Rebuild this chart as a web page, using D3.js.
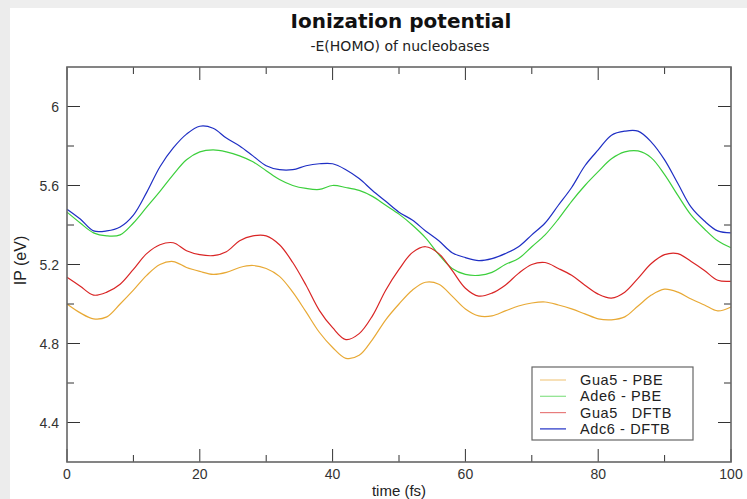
<!DOCTYPE html>
<html>
<head>
<meta charset="utf-8">
<script src="https://cdn.jsdelivr.net/npm/d3@7/dist/d3.min.js"></script>
<style>
  body { margin: 0; background: #fff; }
  svg { display: block; font-family: "Liberation Sans", Arial, sans-serif; }
</style>
</head>
<body>
<div id="chart"></div>
<script>
// time axis (fs) shared by all four series
const timeFs = [0, 2, 4, 6, 8, 10, 12, 14, 16, 18, 20, 22, 24, 26, 28, 30, 32, 34, 36, 38, 40,
  42, 44, 46, 48, 50, 52, 54, 56, 58, 60, 62, 64, 66, 68, 70, 72, 74, 76, 78, 80,
  82, 84, 86, 88, 90, 92, 94, 96, 98, 100];

// IP values (eV)
const gua5Pbe = [5.00, 4.955, 4.925, 4.935, 5.00, 5.07, 5.145, 5.20, 5.215, 5.185, 5.165,
  5.15, 5.16, 5.185, 5.195, 5.18, 5.14, 5.06, 4.96, 4.857, 4.78,
  4.725, 4.74, 4.82, 4.92, 5.00, 5.07, 5.11, 5.10, 5.04, 4.975,
  4.94, 4.94, 4.965, 4.99, 5.005, 5.01, 4.995, 4.975, 4.95, 4.925,
  4.92, 4.935, 4.99, 5.045, 5.075, 5.06, 5.025, 4.995, 4.965, 4.985];
const ade6Pbe = [5.465, 5.41, 5.36, 5.345, 5.35, 5.41, 5.49, 5.57, 5.655, 5.73, 5.77,
  5.78, 5.77, 5.75, 5.72, 5.675, 5.63, 5.60, 5.585, 5.58, 5.60,
  5.59, 5.575, 5.545, 5.50, 5.455, 5.40, 5.335, 5.25, 5.18, 5.15,
  5.145, 5.16, 5.20, 5.23, 5.29, 5.35, 5.43, 5.52, 5.60, 5.67,
  5.735, 5.77, 5.775, 5.74, 5.655, 5.55, 5.45, 5.38, 5.32, 5.285];
const gua5Dftb = [5.136, 5.09, 5.045, 5.06, 5.10, 5.175, 5.255, 5.30, 5.31, 5.27, 5.25,
  5.245, 5.265, 5.32, 5.345, 5.345, 5.30, 5.21, 5.095, 4.968, 4.88,
  4.82, 4.85, 4.94, 5.07, 5.175, 5.26, 5.29, 5.255, 5.17, 5.08,
  5.04, 5.055, 5.095, 5.155, 5.20, 5.21, 5.18, 5.145, 5.095, 5.05,
  5.03, 5.06, 5.13, 5.205, 5.25, 5.255, 5.215, 5.17, 5.12, 5.115];
const ade6Dftb = [5.48, 5.43, 5.37, 5.37, 5.39, 5.45, 5.565, 5.695, 5.79, 5.86, 5.90,
  5.89, 5.84, 5.80, 5.75, 5.70, 5.68, 5.68, 5.70, 5.71, 5.71,
  5.68, 5.635, 5.575, 5.52, 5.465, 5.425, 5.37, 5.32, 5.26, 5.235,
  5.22, 5.23, 5.255, 5.29, 5.35, 5.41, 5.50, 5.59, 5.70, 5.78,
  5.855, 5.875, 5.875, 5.82, 5.73, 5.61, 5.49, 5.42, 5.37, 5.36];

const seriesNames = ["Gua5 - PBE", "Ade6 - PBE", "Gua5   DFTB", "Adc6 - DFTB"];
const seriesColors = ["#e8a935", "#3ccf3c", "#d92525", "#1f2fc4"];
const seriesValues = [gua5Pbe, ade6Pbe, gua5Dftb, ade6Dftb];

const xMajor = [0, 20, 40, 60, 80, 100];
const xMinor = [10, 30, 50, 70, 90];
const yMajor = [4.4, 4.8, 5.2, 5.6, 6.0];
const yMinor = [4.6, 5.0, 5.4, 5.8];

// canvas
const W = 747, H = 499;
const margin = { top: 67, right: 16, bottom: 37, left: 67 },
  width = W - margin.left - margin.right,
  height = H - margin.top - margin.bottom;

const svg = d3.select("#chart")
  .append("svg")
  .attr("width", W)
  .attr("height", H);

// light grey strips at the top and left edge (screenshot border)
svg.append("rect").attr("x", 0).attr("y", 0).attr("width", W).attr("height", 8).attr("fill", "#eeeeee");
svg.append("rect").attr("x", 0).attr("y", 0).attr("width", 10).attr("height", H).attr("fill", "#ececec");

// title + subtitle
svg.append("text")
  .attr("x", 401).attr("y", 28)
  .attr("text-anchor", "middle")
  .style("font-family", "'DejaVu Sans', sans-serif")
  .style("font-weight", "bold")
  .style("font-size", "20px")
  .attr("fill", "#111")
  .text("Ionization potential");

svg.append("text")
  .attr("x", 400).attr("y", 51)
  .attr("text-anchor", "middle")
  .style("font-family", "'DejaVu Sans', sans-serif")
  .style("font-size", "14px")
  .attr("fill", "#222")
  .text("-E(HOMO) of nucleobases");

const g = svg.append("g")
  .attr("transform", "translate(" + margin.left + "," + margin.top + ")");

// scales
const x = d3.scaleLinear().domain([0, 100]).range([0, width]);
const y = d3.scaleLinear().domain([4.2, 6.2]).range([height, 0]);

// series lines
const line = d3.line()
  .x((d, i) => x(timeFs[i]))
  .y(d => y(d))
  .curve(d3.curveCatmullRom);

seriesValues.forEach((vals, k) => {
  g.append("path")
    .datum(vals)
    .attr("fill", "none")
    .attr("stroke", seriesColors[k])
    .attr("stroke-width", 1.2)
    .attr("d", line);
});

// ticks on all four sides, pointing inward
const tickCol = "#333";
function xTicks(vals, len) {
  g.append("g").selectAll("line").data(vals).join("line")
    .attr("x1", d => x(d)).attr("x2", d => x(d))
    .attr("y1", height).attr("y2", height - len)
    .attr("stroke", tickCol);
  g.append("g").selectAll("line").data(vals).join("line")
    .attr("x1", d => x(d)).attr("x2", d => x(d))
    .attr("y1", 0).attr("y2", len)
    .attr("stroke", tickCol);
}
function yTicks(vals, len) {
  g.append("g").selectAll("line").data(vals).join("line")
    .attr("x1", 0).attr("x2", len)
    .attr("y1", d => y(d)).attr("y2", d => y(d))
    .attr("stroke", tickCol);
  g.append("g").selectAll("line").data(vals).join("line")
    .attr("x1", width).attr("x2", width - len)
    .attr("y1", d => y(d)).attr("y2", d => y(d))
    .attr("stroke", tickCol);
}
xTicks(xMajor, 13);
xTicks(xMinor, 7);
yTicks(yMajor, 13);
yTicks(yMinor, 7);

// frame
g.append("rect")
  .attr("width", width).attr("height", height)
  .attr("fill", "none")
  .attr("stroke", "#666")
  .attr("stroke-width", 1.6);

// tick labels
g.append("g").selectAll("text").data(xMajor).join("text")
  .attr("x", d => x(d)).attr("y", height + 17)
  .attr("text-anchor", "middle")
  .style("font-size", "14px")
  .attr("fill", "#333")
  .text(d => d);

g.append("g").selectAll("text").data(yMajor).join("text")
  .attr("x", -8).attr("y", d => y(d) + 5)
  .attr("text-anchor", "end")
  .style("font-size", "14px")
  .attr("fill", "#333")
  .text(d => d3.format("")(d));

// axis labels
g.append("text")
  .attr("x", x(50)).attr("y", height + 34)
  .attr("text-anchor", "middle")
  .style("font-size", "15px")
  .attr("fill", "#222")
  .text("time (fs)");

g.append("text")
  .attr("transform", "translate(" + (-41) + "," + (height / 2 - 4) + ") rotate(-90)")
  .attr("text-anchor", "middle")
  .style("font-size", "16px")
  .attr("fill", "#222")
  .text("IP (eV)");

// legend
const legend = g.append("g")
  .attr("transform", "translate(" + (width - 199) + "," + (height - 95) + ")");

legend.append("rect")
  .attr("width", 161).attr("height", 73)
  .attr("fill", "#fff")
  .attr("stroke", "#666")
  .attr("stroke-width", 1.2);

seriesNames.forEach((name, k) => {
  const ry = 13 + k * 16.3;
  legend.append("line")
    .attr("x1", 8).attr("x2", 34)
    .attr("y1", ry).attr("y2", ry)
    .attr("stroke", seriesColors[k])
    .attr("stroke-opacity", k === 3 ? 1 : 0.6)
    .attr("stroke-width", 1.2);
  legend.append("text")
    .attr("x", 48).attr("y", ry + 5)
    .style("font-size", "14.5px")
    .style("letter-spacing", "0.6px")
    .style("white-space", "pre")
    .attr("fill", "#222")
    .text(name);
});
</script>
</body>
</html>
